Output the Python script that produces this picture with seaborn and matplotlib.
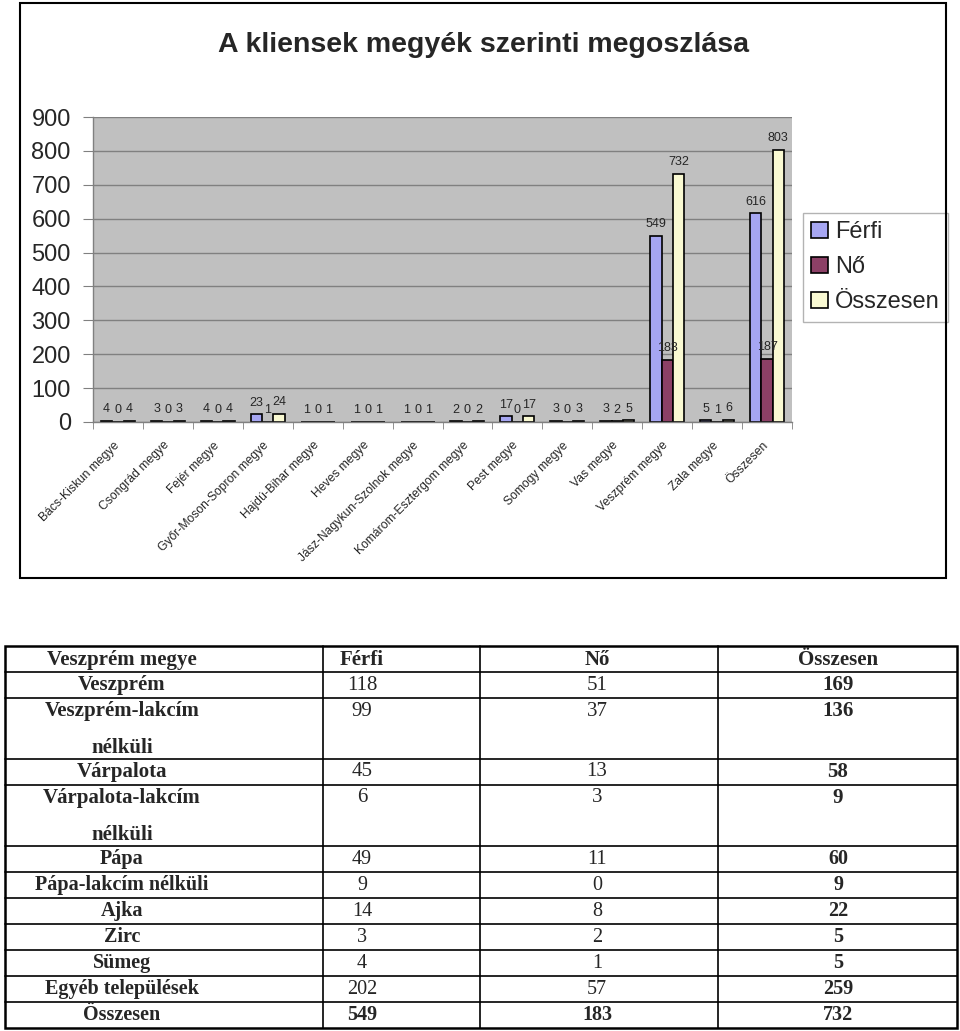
import matplotlib
matplotlib.use("Agg")
import matplotlib.pyplot as plt
from matplotlib.patches import Rectangle
from matplotlib.lines import Line2D
from matplotlib.transforms import ScaledTranslation
import seaborn as sns
import pandas as pd
import numpy as np

# ---------------- data ----------------
megyek = ["Bács-Kiskun megye", "Csongrád megye", "Fejér megye",
          "Győr-Moson-Sopron megye", "Hajdú-Bihar megye", "Heves megye",
          "Jász-Nagykun-Szolnok megye", "Komárom-Esztergom megye",
          "Pest megye", "Somogy megye", "Vas megye", "Veszprém megye",
          "Zala megye", "Összesen"]
ferfi = [4, 3, 4, 23, 1, 1, 1, 2, 17, 3, 3, 549, 5, 616]
no = [0, 0, 0, 1, 0, 0, 0, 0, 0, 0, 2, 183, 1, 187]
osszesen = [4, 3, 4, 24, 1, 1, 1, 2, 17, 3, 5, 732, 6, 803]
series = ["Férfi", "Nő", "Összesen"]
colors = ["#9999FF", "#993366", "#FFFFCC"]
title = "A kliensek megyék szerinti megoszlása"

tab_header = ["Veszprém megye", "Férfi", "Nő", "Összesen"]
tab_rows = ["Veszprém", "Veszprém-lakcím\nnélküli", "Várpalota",
            "Várpalota-lakcím\nnélküli", "Pápa", "Pápa-lakcím nélküli",
            "Ajka", "Zirc", "Sümeg", "Egyéb települések", "Összesen"]
tab_ferfi = [118, 99, 45, 6, 49, 9, 14, 3, 4, 202, 549]
tab_no = [51, 37, 13, 3, 11, 0, 8, 2, 1, 57, 183]
tab_ossz = [169, 136, 58, 9, 60, 9, 22, 5, 5, 259, 732]

df = pd.DataFrame({
    "megye": megyek * 3,
    "nem": sum([[s] * len(megyek) for s in series], []),
    "ertek": ferfi + no + osszesen,
})

# ---------------- figure ----------------
sns.set_style("white")
plt.rcParams["font.family"] = ["Liberation Sans", "DejaVu Sans"]

W, H = 960, 1031
fig = plt.figure(figsize=(W / 100, H / 100), dpi=100)

def fx(x):
    return x / W

def fy(y):
    return 1 - y / H

# outer chart frame
fig.add_artist(Rectangle((fx(20), fy(578)), fx(926), 575 / H,
                         transform=fig.transFigure, fill=False,
                         lw=1.5, ec="black"))

ax = fig.add_axes([fx(93), fy(422), fx(792 - 93), (422 - 117) / H])
ax.set_facecolor("#C0C0C0")
sns.barplot(data=df, x="megye", y="ertek", hue="nem", order=megyek,
            hue_order=series, palette=colors, edgecolor="black",
            linewidth=1.2, width=0.68, gap=0, ax=ax, legend=True)

ax.set_ylim(0, 900)
ax.set_xlim(-0.5, len(megyek) - 0.5)
ax.set_yticks(np.arange(0, 901, 100))
ax.yaxis.grid(True, color="#808080", lw=1)
ax.set_axisbelow(True)
ax.set_xlabel("")
ax.set_ylabel("")
for s in ["top", "right"]:
    ax.spines[s].set_visible(False)
for s in ["left", "bottom"]:
    ax.spines[s].set_color("#808080")
    ax.spines[s].set_linewidth(1)
ax.tick_params(axis="y", labelsize=17, length=7, color="#808080", pad=9,
               left=True)
ax.tick_params(axis="x", labelsize=8.7, length=0, pad=6)
ax.set_xticks(np.arange(-0.5, len(megyek), 1), minor=True)
ax.tick_params(axis="x", which="minor", length=5, color="#808080",
               bottom=True)
offset = ScaledTranslation(-5 / 100, -9 / 100, fig.dpi_scale_trans)
for lab in ax.get_xticklabels():
    lab.set_rotation(45)
    lab.set_ha("right")
    lab.set_rotation_mode("anchor")
    lab.set_transform(lab.get_transform() + offset)

for cont in ax.containers:
    ax.bar_label(cont, fmt="%d", padding=4, fontsize=9)

leg = ax.legend(loc="upper left", bbox_to_anchor=(fx(803), fy(213)),
                bbox_transform=fig.transFigure, fontsize=17, frameon=True,
                fancybox=False, edgecolor="#A0A0A0", borderpad=0.35,
                handlelength=0.7, handleheight=0.7, handletextpad=0.3,
                labelspacing=0.55, borderaxespad=0)
leg.get_frame().set_linewidth(1)
for h in leg.legend_handles:
    h.set_edgecolor("black")

fig.text(fx(483), fy(45), title, ha="center", va="center",
         fontsize=20.5, fontweight="bold")

# ---------------- table ----------------
tx = fig.add_axes([0, 0, 1, 1], facecolor="none")
tx.set_xlim(0, W)
tx.set_ylim(H, 0)
tx.axis("off")

col_edges = [5, 323, 480, 718, 957]
row_edges = [646, 672, 698, 759, 785, 846, 872, 898, 924, 950, 976, 1002, 1028]
col_centers = [122, 362, 597, 838]

tx.add_patch(Rectangle((col_edges[0], row_edges[0]),
                       col_edges[-1] - col_edges[0],
                       row_edges[-1] - row_edges[0],
                       fill=False, ec="black", lw=1.8))
for x in col_edges[1:-1]:
    tx.add_line(Line2D([x, x], [row_edges[0], row_edges[-1]], color="black", lw=1.2))
for y in row_edges[1:-1]:
    tx.add_line(Line2D([col_edges[0], col_edges[-1]], [y, y], color="black", lw=1.2))

serif = ["Liberation Serif", "DejaVu Serif"]
for j, h in enumerate(tab_header):
    tx.text(col_centers[j], (row_edges[0] + row_edges[1]) / 2 + 1, h,
            ha="center", va="center", fontsize=15, fontweight="bold",
            family=serif)

for i, name in enumerate(tab_rows):
    fs = 15 if i < 4 else 14.5
    top = row_edges[i + 1]
    y1 = top + 13
    lines = name.split("\n")
    tx.text(col_centers[0], y1, lines[0], ha="center", va="center",
            fontsize=fs, fontweight="bold", family=serif)
    if len(lines) > 1:
        tx.text(col_centers[0], top + 50, lines[1], ha="center", va="center",
                fontsize=fs, fontweight="bold", family=serif)
    last = (i == len(tab_rows) - 1)
    tx.text(col_centers[1], y1, str(tab_ferfi[i]), ha="center", va="center",
            fontsize=fs, family=serif, fontweight="bold" if last else "normal")
    tx.text(col_centers[2], y1, str(tab_no[i]), ha="center", va="center",
            fontsize=fs, family=serif, fontweight="bold" if last else "normal")
    tx.text(col_centers[3], y1, str(tab_ossz[i]), ha="center", va="center",
            fontsize=fs, family=serif, fontweight="bold")

fig.savefig("out.png", dpi=100)
